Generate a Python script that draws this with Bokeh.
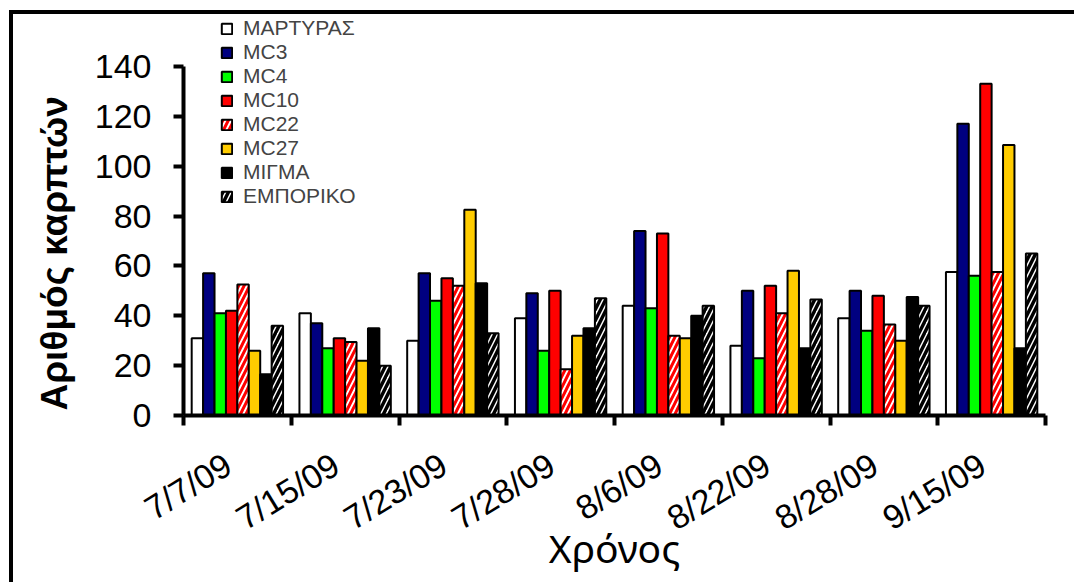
import math
from bokeh.plotting import figure
from bokeh.models import Range1d, FixedTicker, Legend, LegendItem, Title
from bokeh.embed import file_html
from bokeh.resources import INLINE

# ---- data ----
dates = ["7/7/09", "7/15/09", "7/23/09", "7/28/09", "8/6/09", "8/22/09", "8/28/09", "9/15/09"]
series_names = ["ΜΑΡΤΥΡΑΣ", "MC3", "MC4", "MC10", "MC22", "MC27", "ΜΙΓΜΑ", "ΕΜΠΟΡΙΚΟ"]
martyras = [31, 41, 30, 39, 44, 28, 39, 57.5]
mc3 = [57, 37, 57, 49, 74, 50, 50, 117]
mc4 = [41, 27, 46, 26, 43, 23, 34, 56]
mc10 = [42, 31, 55, 50, 73, 52, 48, 133]
mc22 = [52.5, 29.5, 52, 18.5, 32, 41, 36.5, 57.5]
mc27 = [26, 22, 82.5, 32, 31, 58, 30, 108.5]
migma = [16.5, 35, 53, 35, 40, 27, 47.5, 27]
emporiko = [36, 20, 33, 47, 44, 46.5, 44, 65]
y_ticks = [0, 20, 40, 60, 80, 100, 120, 140]
y_title = "Αριθμός καρπτών"
x_title = "Χρόνος"

series_values = [martyras, mc3, mc4, mc10, mc22, mc27, migma, emporiko]

# ---- styles ----
fills = ["white", "#000080", "#00FF00", "#FF0000", "white", "#FFCC00", "black", "white"]
hatches = [None, None, None, None, "/", None, None, "/"]
hatch_colors = [None, None, None, None, "#FF0000", None, None, "black"]
hatch_weights = [0, 0, 0, 0, 3, 0, 0, 3.5]
BAR_W = 0.106
LABEL_SHIFT = 0.085

p = figure(width=1065, height=572, output_backend="svg", toolbar_location=None,
           x_range=Range1d(0, 8), y_range=Range1d(0, 160),
           min_border_left=170, min_border_right=33, min_border_top=2, min_border_bottom=171,
           styles={"margin-left": "9px", "margin-top": "10px",
                   "border-left": "4px solid black", "border-top": "4px solid black"})
p.outline_line_color = None
p.xgrid.visible = False
p.ygrid.visible = False
p.background_fill_color = "white"
p.border_fill_color = "white"

renderers = []
for j, (name, vals) in enumerate(zip(series_names, series_values)):
    xs = [i + 0.5 + (j - 3.5) * BAR_W for i in range(len(dates))]
    kw = dict(x=xs, top=vals, bottom=0, width=BAR_W, fill_color=fills[j],
              line_color="black", line_width=2)
    if hatches[j]:
        kw.update(hatch_pattern=hatches[j], hatch_color=hatch_colors[j],
                  hatch_weight=hatch_weights[j], hatch_scale=11)
    r = p.vbar(**kw)
    renderers.append(r)

legend = Legend(items=[LegendItem(label=n, renderers=[r]) for n, r in zip(series_names, renderers)],
                location=(37, 207), orientation="vertical",
                label_text_font="Liberation Sans", label_text_font_size="21px",
                glyph_width=13, glyph_height=13, label_standoff=10, label_height=24,
                spacing=0, padding=0, margin=0, border_line_color=None,
                background_fill_alpha=0)
p.add_layout(legend, "center")

# x axis
xa = p.xaxis[0]
label_pos = [i + 0.5 - LABEL_SHIFT for i in range(len(dates))]
xa.ticker = FixedTicker(ticks=label_pos, minor_ticks=list(range(len(dates) + 1)))
xa.major_label_overrides = {c: d for c, d in zip(label_pos, dates)}
xa.major_tick_line_color = None
xa.minor_tick_out = 10
xa.minor_tick_in = 0
xa.minor_tick_line_width = 4
xa.minor_tick_line_color = "black"
xa.axis_line_width = 4
xa.axis_line_color = "black"
xa.bounds = (0, 8)
xa.major_label_orientation = 0.55
xa.major_label_text_font = "Liberation Sans"
xa.major_label_text_font_size = "34px"
xa.major_label_text_color = "black"
xa.major_label_standoff = 36
xa.axis_label = x_title
xa.axis_label_text_font = "Noto Sans"
xa.axis_label_text_font_size = "39px"
xa.axis_label_text_font_style = "normal"
xa.axis_label_text_color = "black"
xa.axis_label_standoff = -35

# y axis
ya = p.yaxis[0]
ya.ticker = FixedTicker(ticks=y_ticks)
ya.bounds = (0, 140)
ya.major_tick_out = 10
ya.major_tick_in = 0
ya.major_tick_line_width = 4
ya.minor_tick_line_color = None
ya.axis_line_width = 4
ya.major_label_text_font = "Liberation Sans"
ya.major_label_text_font_size = "34px"
ya.major_label_text_color = "black"
ya.major_label_standoff = 22

ytitle = Title(text=y_title, align="left", offset=5, vertical_align="bottom", standoff=34,
               text_font="Liberation Sans", text_font_size="37px", text_font_style="bold",
               text_color="black")
p.add_layout(ytitle, "left")

open("out.html", "w").write(file_html(p, INLINE))
